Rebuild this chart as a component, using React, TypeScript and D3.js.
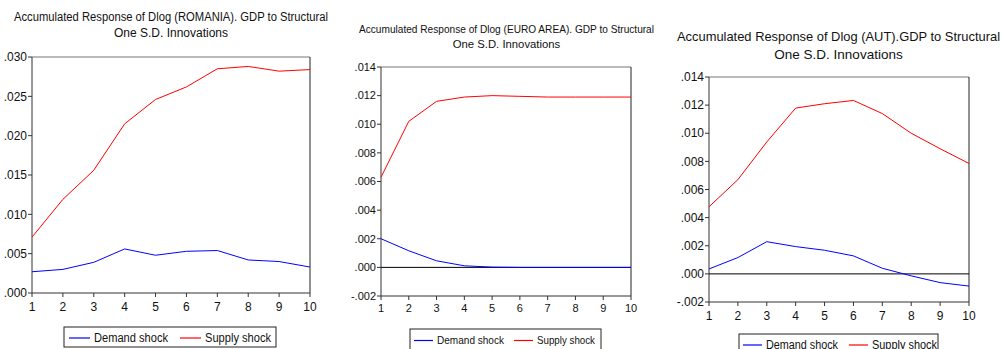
import * as d3 from "d3";

const periods = [1, 2, 3, 4, 5, 6, 7, 8, 9, 10];

// Romania
const roDemand = [0.0027, 0.003, 0.0039, 0.0056, 0.0048, 0.0053, 0.0054, 0.0042, 0.004, 0.0033];
const roSupply = [0.0071, 0.0119, 0.0156, 0.0215, 0.0246, 0.0262, 0.0285, 0.0288, 0.0282, 0.0284];
const roTicks = [0, 0.005, 0.01, 0.015, 0.02, 0.025, 0.03];

// Euro area
const euDemand = [0.002, 0.00116, 0.00046, 0.00011, 0.00002, 0.0, 0.0, 0.0, 0.0, 0.0];
const euSupply = [0.0063, 0.0102, 0.0116, 0.0119, 0.012, 0.01195, 0.0119, 0.0119, 0.0119, 0.0119];
const euTicks = [-0.002, 0, 0.002, 0.004, 0.006, 0.008, 0.01, 0.012, 0.014];

// Austria
const atDemand = [0.00035, 0.00116, 0.00229, 0.00194, 0.00168, 0.00128, 0.0004, -0.00014, -0.00062, -0.00087];
const atSupply = [0.00477, 0.0067, 0.00938, 0.01179, 0.0121, 0.01233, 0.0114, 0.01, 0.0089, 0.00785];
const atTicks = [-0.002, 0, 0.002, 0.004, 0.006, 0.008, 0.01, 0.012, 0.014];

const FONT = "'Liberation Sans', Arial, sans-serif";

interface PanelProps {
  title1: string;
  title2: string;
  titleX: number;
  titleY: number;
  titleW: number;
  titleSize: number;
  box: { x0: number; x1: number; y0: number; y1: number };
  domain: [number, number];
  ticks: number[];
  demand: number[];
  supply: number[];
  zeroLine: boolean;
  fontSize: number;
  xLabelY: number;
  legend: {
    x0: number; x1: number; y0: number; y1: number; lineY: number;
    blue: number; red: number; len: number; dW: number; sW: number;
  };
}

function fmt(v: number) {
  const s = Math.abs(v).toFixed(3).replace(/^0/, "");
  return v < 0 ? "-" + s : s;
}

function Panel(p: PanelProps) {
  const x = d3.scaleLinear().domain([1, 10]).range([p.box.x0, p.box.x1]);
  const y = d3.scaleLinear().domain(p.domain).range([p.box.y1, p.box.y0]);
  const line = d3
    .line<number>()
    .x((_, i) => x(periods[i]))
    .y((d) => y(d));
  const L = p.legend;
  return (
    <g fontFamily={FONT}>
      <text x={p.titleX} y={p.titleY} fontSize={p.titleSize} textAnchor="middle" textLength={p.titleW} lengthAdjust="spacingAndGlyphs" fill="#111">
        {p.title1}
      </text>
      <text x={p.titleX} y={p.titleY + p.titleSize * 1.33} fontSize={p.titleSize} textAnchor="middle" fill="#111">
        {p.title2}
      </text>
      {/* frame */}
      <line x1={p.box.x0} x2={p.box.x1} y1={p.box.y0} y2={p.box.y0} stroke="#777" strokeWidth={1.2} />
      <line x1={p.box.x1} x2={p.box.x1} y1={p.box.y0} y2={p.box.y1} stroke="#222" />
      <line x1={p.box.x0} x2={p.box.x0} y1={p.box.y0} y2={p.box.y1} stroke="#333" />
      <line x1={p.box.x0} x2={p.box.x1} y1={p.box.y1} y2={p.box.y1} stroke="#333" />
      {p.zeroLine && <line x1={p.box.x0} x2={p.box.x1} y1={y(0)} y2={y(0)} stroke="#000" />}
      {p.ticks.map((t) => (
        <g key={t}>
          <line x1={p.box.x0 - 4} x2={p.box.x0} y1={y(t)} y2={y(t)} stroke="#333" />
          <text x={p.box.x0 - 5} y={y(t)} dy="0.35em" textAnchor="end" fontSize={p.fontSize} fill="#111">
            {fmt(t)}
          </text>
        </g>
      ))}
      {periods.map((t) => (
        <g key={t}>
          <line x1={x(t)} x2={x(t)} y1={p.box.y1} y2={p.box.y1 + 4} stroke="#333" />
          <text x={x(t)} y={p.xLabelY} textAnchor="middle" fontSize={p.fontSize} fill="#111">
            {t}
          </text>
        </g>
      ))}
      <path d={line(p.supply) ?? ""} fill="none" stroke="#ff0000" strokeWidth={1} />
      <path d={line(p.demand) ?? ""} fill="none" stroke="#0000ff" strokeWidth={1} />
      {/* legend */}
      <rect x={L.x0} y={L.y0} width={L.x1 - L.x0} height={L.y1 - L.y0} fill="#fff" stroke="#222" />
      <line x1={L.blue} x2={L.blue + L.len} y1={L.lineY} y2={L.lineY} stroke="#0000ff" strokeWidth={1.2} />
      <text x={L.blue + L.len + 4} y={L.lineY} dy="0.35em" fontSize={p.fontSize} textLength={L.dW} lengthAdjust="spacingAndGlyphs" fill="#111">
        Demand shock
      </text>
      <line x1={L.red} x2={L.red + L.len} y1={L.lineY} y2={L.lineY} stroke="#ff0000" strokeWidth={1.2} />
      <text x={L.red + L.len + 4} y={L.lineY} dy="0.35em" fontSize={p.fontSize} textLength={L.sW} lengthAdjust="spacingAndGlyphs" fill="#111">
        Supply shock
      </text>
    </g>
  );
}

export default function App() {
  return (
    <svg width={1002} height={349} style={{ position: "absolute", left: 0, top: 0, background: "#fff" }}>
      <rect width={1002} height={349} fill="#fff" />
      <Panel
        title1="Accumulated Response of Dlog (ROMANIA). GDP to Structural"
        title2="One S.D. Innovations"
        titleX={171}
        titleY={21}
        titleW={314}
        titleSize={12}
        box={{ x0: 32, x1: 310, y0: 57, y1: 293 }}
        domain={[0, 0.03]}
        ticks={roTicks}
        demand={roDemand}
        supply={roSupply}
        zeroLine={false}
        fontSize={12}
        xLabelY={311}
        legend={{ x0: 64, x1: 276, y0: 327, y1: 347, lineY: 338, blue: 69, red: 180, len: 21, dW: 74, sW: 66 }}
      />
      <Panel
        title1="Accumulated Response of Dlog (EURO AREA). GDP to Structural"
        title2="One S.D. Innovations"
        titleX={506.5}
        titleY={33}
        titleW={295}
        titleSize={11.3}
        box={{ x0: 381, x1: 631, y0: 67, y1: 296 }}
        domain={[-0.002, 0.014]}
        ticks={euTicks}
        demand={euDemand}
        supply={euSupply}
        zeroLine={true}
        fontSize={11}
        xLabelY={312}
        legend={{ x0: 410, x1: 601, y0: 329, y1: 352, lineY: 340.5, blue: 414, red: 514, len: 19, dW: 67, sW: 58 }}
      />
      <Panel
        title1="Accumulated Response of Dlog (AUT).GDP to Structural"
        title2="One S.D. Innovations"
        titleX={838.5}
        titleY={41}
        titleW={323}
        titleSize={13.5}
        box={{ x0: 709, x1: 969, y0: 77, y1: 302 }}
        domain={[-0.002, 0.014]}
        ticks={atTicks}
        demand={atDemand}
        supply={atSupply}
        zeroLine={true}
        fontSize={12}
        xLabelY={320}
        legend={{ x0: 739, x1: 938, y0: 334, y1: 358, lineY: 345, blue: 743, red: 849, len: 19, dW: 72, sW: 65 }}
      />
    </svg>
  );
}
